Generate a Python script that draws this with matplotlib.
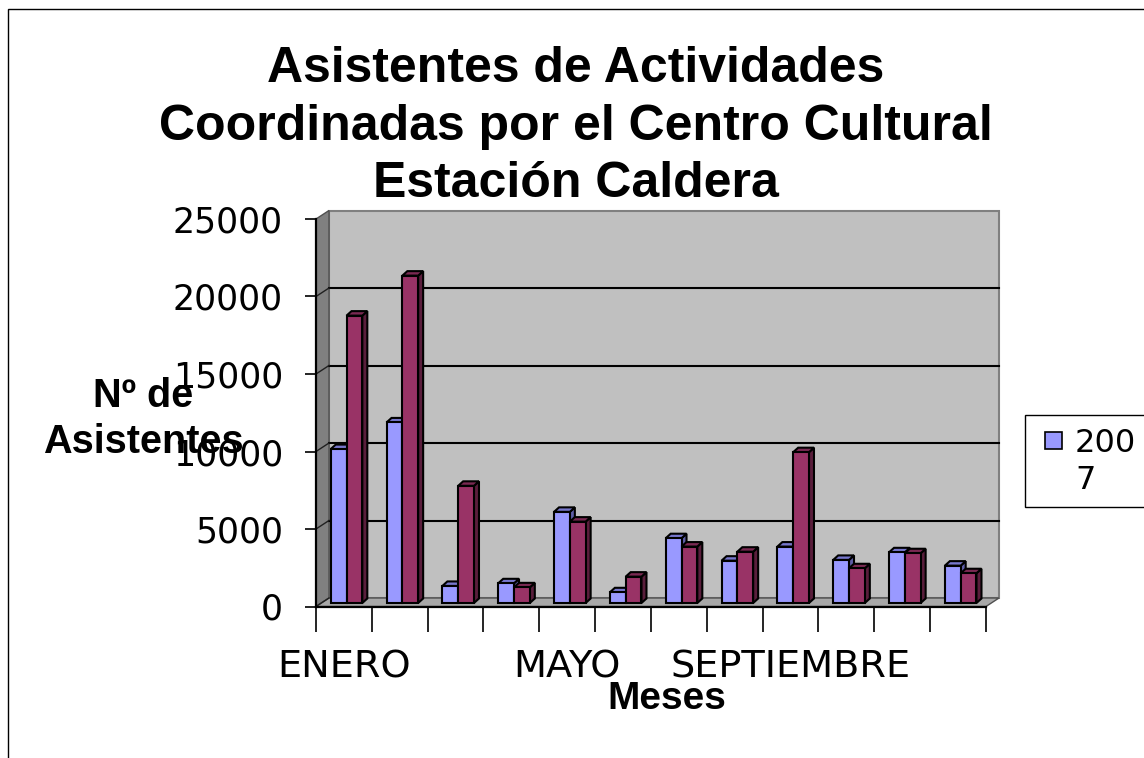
import matplotlib
matplotlib.use("Agg")
import matplotlib.pyplot as plt
from matplotlib.patches import Polygon, Rectangle
from matplotlib.lines import Line2D
from matplotlib.transforms import IdentityTransform

# datos
meses = ["ENERO", "FEBRERO", "MARZO", "ABRIL", "MAYO", "JUNIO", "JULIO",
         "AGOSTO", "SEPTIEMBRE", "OCTUBRE", "NOVIEMBRE", "DICIEMBRE"]
anios = ["2007", "2008"]
asistentes_2007 = [9930, 11650, 1100, 1270, 5880, 690, 4180, 2730, 3640, 2780, 3270, 2410]
asistentes_2008 = [18540, 21120, 7560, 1010, 5250, 1700, 3640, 3310, 9730, 2240, 3210, 1920]
yticks = [0, 5000, 10000, 15000, 20000, 25000]

colores = ["#9999FF", "#993366"]
lados = ["#5E5EA8", "#5A1E3C"]
techos = ["#7777CC", "#7A2952"]

W, H = 1144, 758
fig = plt.figure(figsize=(W / 100, H / 100), dpi=100)
fig.patch.set_facecolor("white")

ax = fig.add_axes([316 / W, 1 - 606.5 / H, 670 / W, 387.5 / H])
ax.set_xlim(0, len(meses))
ax.set_ylim(0, 25000)
ax.set_autoscale_on(False)
ax.patch.set_visible(False)
for s in ["top", "right"]:
    ax.spines[s].set_visible(False)
for s in ["left", "bottom"]:
    ax.spines[s].set_linewidth(1.6)
    ax.spines[s].set_zorder(5)

# profundidad en pixeles (derecha, arriba)
WX, WY = 13, 8.5
FX, FY = 5.5, 3.5
BX, BY = 10.5, 8.0


def pt(x, y, dx=0.0, dy=0.0):
    X, Y = ax.transData.transform((x, y))
    return (X + dx, Y + dy)


def poly(puntos, fc, ec, lw, z):
    ax.add_patch(Polygon(puntos, closed=True, facecolor=fc, edgecolor=ec,
                         linewidth=lw, transform=IdentityTransform(),
                         clip_on=False, zorder=z))


def linea(p0, p1, color, lw, z):
    ax.add_line(Line2D([p0[0], p1[0]], [p0[1], p1[1]], color=color, linewidth=lw,
                       transform=IdentityTransform(), clip_on=False, zorder=z))


n = len(meses)
top = yticks[-1]
# paredes y piso
poly([pt(0, 0, WX, WY), pt(n, 0, WX, WY), pt(n, top, WX, WY), pt(0, top, WX, WY)],
     "#C0C0C0", "#808080", 1.5, 0.5)
poly([pt(0, 0), pt(0, 0, WX, WY), pt(0, top, WX, WY), pt(0, top)],
     "#808080", "#505050", 1.0, 0.6)
poly([pt(0, 0), pt(n, 0), pt(n, 0, WX, WY), pt(0, 0, WX, WY)],
     "#A8A8A8", "#505050", 1.0, 0.6)
for v in yticks[1:-1]:
    linea(pt(0, v, WX, WY), pt(n, v, WX, WY), "black", 1.5, 0.8)
for v in yticks[:-1]:
    linea(pt(0, v), pt(0, v, WX, WY), "#202020", 1.0, 0.8)

# barras 3D
ancho = 0.283
z = 1.0
for i in range(n):
    for s, serie in enumerate([asistentes_2007, asistentes_2008]):
        v = serie[i]
        x0 = i + 0.165 + s * ancho
        x1 = x0 + ancho
        poly([pt(x1, 0, FX, FY), pt(x1, 0, BX, BY), pt(x1, v, BX, BY), pt(x1, v, FX, FY)],
             lados[s], "black", 1.5, z)
        poly([pt(x0, v, FX, FY), pt(x1, v, FX, FY), pt(x1, v, BX, BY), pt(x0, v, BX, BY)],
             techos[s], "black", 1.5, z)
        poly([pt(x0, 0, FX, FY), pt(x1, 0, FX, FY), pt(x1, v, FX, FY), pt(x0, v, FX, FY)],
             colores[s], "black", 1.5, z + 0.01)
        z += 0.02

# ejes
ax.set_yticks(yticks)
ax.set_yticklabels([str(v) for v in yticks])
ax.tick_params(axis="y", length=11 * 0.72, width=1.2, pad=22 * 0.72, labelsize=25)
ax.set_xticks(range(n + 1))
ax.set_xticklabels([])
ax.tick_params(axis="x", which="major", length=25 * 0.72, width=1.2)
ax.set_xticks([i + 0.5 for i in range(0, n, 4)], minor=True)
ax.set_xticklabels(meses[::4], minor=True)
ax.tick_params(axis="x", which="minor", length=0, pad=43 * 0.72, labelsize=27.5)

# textos
fig.text(576 / W, 1 - 46 / H,
         "Asistentes de Actividades\nCoordinadas por el Centro Cultural\nEstación Caldera",
         ha="center", va="top", fontsize=36, fontweight="bold", family="Liberation Sans",
         linespacing=1.32, multialignment="center")
fig.text(143 / W, 1 - 377 / H, "Nº de\nAsistentes", ha="center", va="top",
         fontsize=28.5, fontweight="bold", family="Liberation Sans",
         linespacing=1.25, multialignment="center", zorder=10)
fig.text(667 / W, 1 - 681 / H, "Meses", ha="center", va="top",
         fontsize=28, fontweight="bold", family="Liberation Sans")

# leyenda (solo se ve la primera serie)
fig.add_artist(Rectangle((1025, H - 507), 140, 92, facecolor="white", edgecolor="black",
                         linewidth=1.0, transform=IdentityTransform()))
fig.add_artist(Rectangle((1045, H - 449), 17, 17, facecolor=colores[0], edgecolor="black",
                         linewidth=1.2, transform=IdentityTransform()))
fig.text(1075 / W, 1 - 428 / H, anios[0][:3] + "\n" + anios[0][3:], ha="left", va="top",
         fontsize=23, linespacing=1.25)

# borde del grafico
fig.add_artist(Rectangle((7.5, -10), W + 20, H - 9 + 10, fill=False, edgecolor="black",
                         linewidth=1.0, transform=IdentityTransform()))

fig.savefig("out.png", dpi=100)
